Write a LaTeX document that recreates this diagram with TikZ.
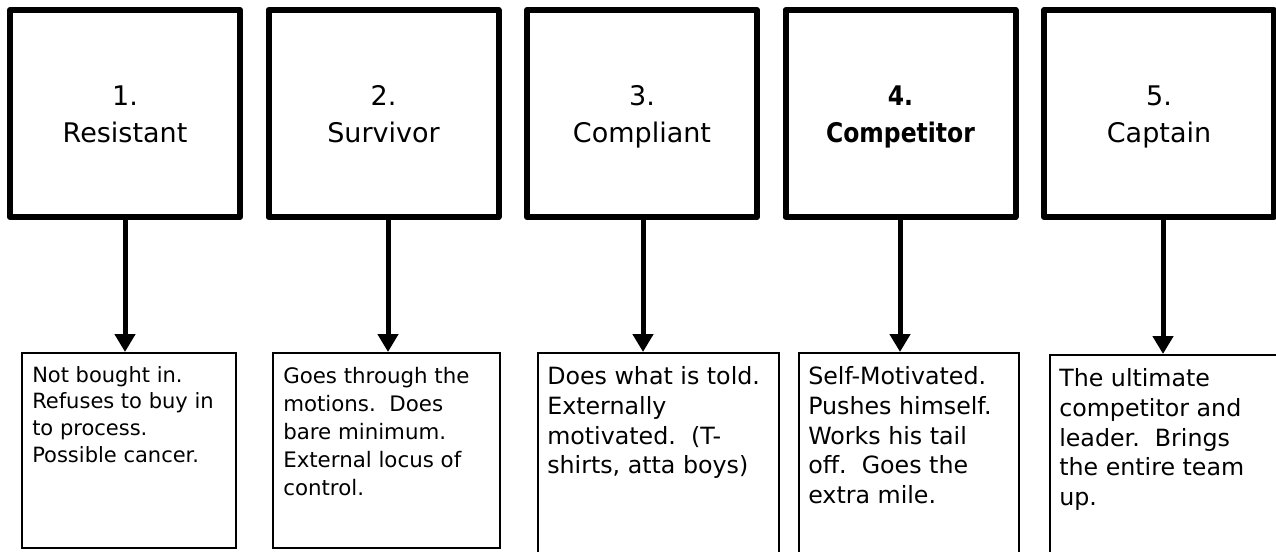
\documentclass[tikz,border=0pt]{standalone}
\usepackage{fontspec}
\setmainfont{DejaVu Sans}
\newfontface\narrowbold{DejaVu Sans Bold}[FakeStretch=0.87]
\usetikzlibrary{arrows.meta}
\begin{document}
\begin{tikzpicture}[x=0.75pt,y=-0.75pt,
  topbox/.style={draw,line width=4.5pt,line join=round,minimum width=172.5pt,minimum height=155.25pt,
    align=center,inner sep=0pt,font=\fontsize{20.25pt}{27.75pt}\selectfont},
  lowbox/.style={draw,line width=1.5pt,anchor=north west,inner sep=0pt},
  lowtext/.style={anchor=north west,inner sep=0pt,align=left},
  smalltxt/.style={font=\fontsize{15.75pt}{20pt}\selectfont},
  midtxt/.style={font=\fontsize{16pt}{21pt}\selectfont},
  bigtxt/.style={font=\fontsize{17.8pt}{22.4pt}\selectfont},
  arr/.style={line width=3.75pt,-{Triangle[width=15pt,length=13.5pt]}}]
\useasboundingbox (0,0) rectangle (1276,551);
\newcommand{\hiline}{\rule{0pt}{24pt}}
% top boxes
\node[topbox] (t1) at (125,113.5) {\hiline 1.\\\strut Resistant};
\node[topbox] (t2) at (383.5,113.5) {\hiline 2.\\\strut Survivor};
\node[topbox] (t3) at (642,113.5) {\hiline 3.\\\strut Compliant};
\node[topbox] (t4) at (900.5,113.5) {\hiline{\narrowbold 4.}\\\strut{\narrowbold Competitor}};
\node[topbox] (t5) at (1159,113.5) {\hiline 5.\\\strut Captain};
% bottom boxes
\node[lowbox,minimum width=160.5pt,minimum height=146.25pt] (b1) at (21,352) {};
\node[lowbox,minimum width=170.25pt,minimum height=146.25pt] (b2) at (272,352) {};
\node[lowbox,minimum width=180.75pt,minimum height=157.5pt] (b3) at (537,352) {};
\node[lowbox,minimum width=165pt,minimum height=157.5pt] (b4) at (798,352) {};
\node[lowbox,minimum width=180pt,minimum height=157.5pt] (b5) at (1049,354) {};
% texts
\node[lowtext,smalltxt] (x1) at (32,366) {Not bought in.\\Refuses to buy in\\to process.\\Possible cancer.};
\node[lowtext,midtxt] (x2) at (283,367) {Goes through the\\motions.\ \ Does\\bare minimum.\\External locus of\\control.};
\node[lowtext,bigtxt] (x3) at (547,366) {Does what is told.\\Externally\\motivated.\ \ (T-\\shirts, atta boys)};
\node[lowtext,bigtxt] (x4) at (808,366) {Self-Motivated.\\Pushes himself.\\Works his tail\\off.\ \ Goes the\\extra mile.};
\node[lowtext,bigtxt] (x5) at (1059,368) {The ultimate\\competitor and\\leader.\ \ Brings\\the entire team\\up.};
% arrows
\coordinate (a1) at (125,0);
\coordinate (a2) at (388,0);
\coordinate (a3) at (643,0);
\coordinate (a4) at (900,0);
\coordinate (a5) at (1163,0);
\foreach \i in {1,...,5}{
  \draw[arr] (t\i.south -| a\i) -- (b\i.north -| a\i);
}
\end{tikzpicture}
\end{document}
